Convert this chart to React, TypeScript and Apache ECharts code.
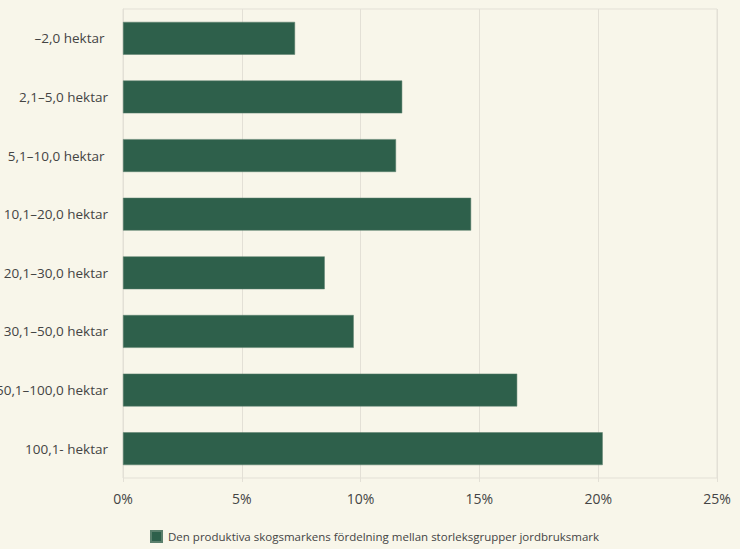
import React, { useEffect, useRef } from "react";
import * as echarts from "echarts";

const categories = [
  "–2,0 hektar ",
  "2,1–5,0 hektar",
  "5,1–10,0 hektar ",
  "10,1–20,0 hektar",
  "20,1–30,0 hektar",
  "30,1–50,0 hektar",
  "50,1–100,0 hektar",
  "100,1- hektar",
];

const shares = [7.24, 11.75, 11.49, 14.65, 8.49, 9.71, 16.59, 20.19];

const seriesName = "Den produktiva skogsmarkens fördelning mellan storleksgrupper jordbruksmark";

const BG = "#f8f6ea";
const BAR = "#2e604b";
const GRID = "#e3e0d6";
const TEXT = "#444444";
const FONT = "'Open Sans', 'Noto Sans', sans-serif";

export default function App() {
  const chartRef = useRef<HTMLDivElement>(null);

  useEffect(() => {
    if (!chartRef.current) return;
    const chart = echarts.init(chartRef.current, undefined, { renderer: "svg" });

    chart.setOption({
      backgroundColor: BG,
      animation: false,
      textStyle: { fontFamily: FONT },
      grid: {
        left: 123,
        right: 23,
        top: 9,
        bottom: 71,
        show: true,
        borderColor: GRID,
        borderWidth: 1,
        containLabel: false,
        outerBoundsMode: "none",
      },
      legend: {
        left: 145,
        top: 525,
        itemWidth: 11,
        itemHeight: 11,
        itemGap: 5,
        icon: "rect",
        textStyle: { color: TEXT, fontSize: 11.5, fontFamily: FONT, padding: [0, 0, 0, 1] },
        data: [seriesName],
      },
      xAxis: {
        type: "value",
        min: 0,
        max: 25,
        interval: 5,
        axisLine: { show: false },
        axisTick: { show: true, length: 4, lineStyle: { color: GRID } },
        splitLine: { lineStyle: { color: GRID, width: 1 } },
        axisLabel: { color: TEXT, fontSize: 14, margin: 13, formatter: "{value}%", fontFamily: FONT },
      },
      yAxis: {
        type: "category",
        inverse: true,
        data: categories,
        axisLine: { show: true, lineStyle: { color: GRID } },
        axisTick: { show: false },
        axisLabel: { color: TEXT, fontSize: 13.5, margin: 15, fontFamily: FONT },
      },
      series: [
        {
          name: seriesName,
          type: "bar",
          data: shares,
          barCategoryGap: "44%",
          itemStyle: { color: BAR, borderColor: "#5a7f6c", borderWidth: 0.5 },
        },
      ],
    });

    return () => {
      chart.dispose();
    };
  }, []);

  return (
    <div
      ref={chartRef}
      style={{ position: "fixed", left: 0, top: 0, width: 740, height: 549, background: BG }}
    />
  );
}
